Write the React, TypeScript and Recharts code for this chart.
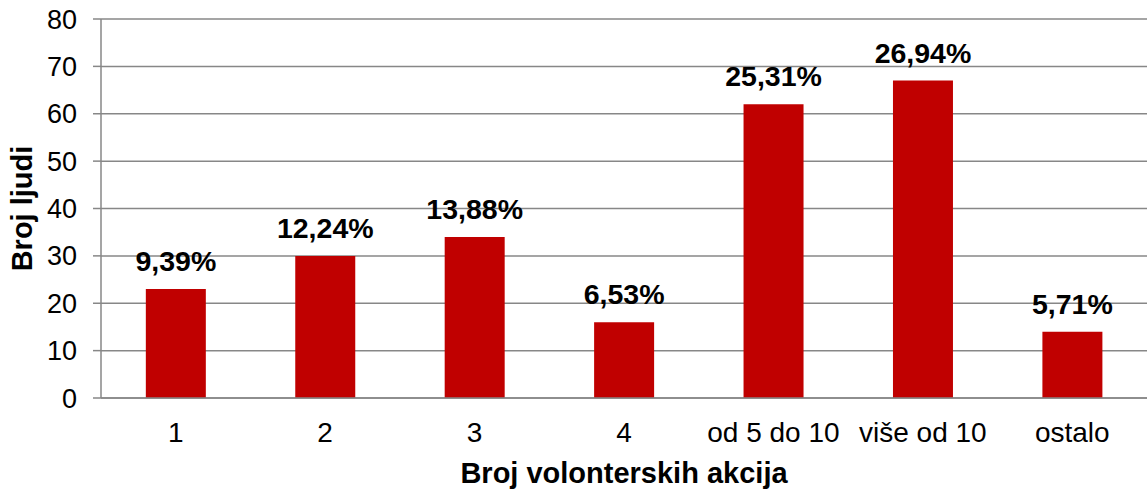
import React from 'react';
import { BarChart, Bar, XAxis, YAxis, CartesianGrid, LabelList } from 'recharts';

const categories = ['1', '2', '3', '4', 'od 5 do 10', 'više od 10', 'ostalo'];
const counts = [23, 30, 34, 16, 62, 67, 14];
const percentLabels = ['9,39%', '12,24%', '13,88%', '6,53%', '25,31%', '26,94%', '5,71%'];
const yTicks = [0, 10, 20, 30, 40, 50, 60, 70, 80];

const data = categories.map((c, i) => ({ name: c, value: counts[i], pct: percentLabels[i] }));

const FONT = '"Liberation Sans", Arial, sans-serif';
const GRID = '#878787';

export default function App() {
  return (
    <div style={{ position: 'absolute', top: 0, left: 0, fontFamily: FONT }}>
      <BarChart
        width={1147}
        height={491}
        data={data}
        margin={{ top: 19, right: 0, left: 0, bottom: 0 }}
        barCategoryGap="30%"
      >
        <CartesianGrid vertical={false} stroke={GRID} strokeWidth={1.5} />
        <XAxis
          dataKey="name"
          height={93}
          tickLine={false}
          tickSize={0}
          tickMargin={24}
          axisLine={{ stroke: GRID, strokeWidth: 1.5 }}
          tick={{ fill: '#000', fontSize: 28, fontFamily: FONT }}
          interval={0}
          label={{
            value: 'Broj volonterskih akcija',
            position: 'insideBottom',
            offset: 8,
            style: { fill: '#000', fontSize: 29, fontWeight: 'bold', fontFamily: FONT },
          }}
        />
        <YAxis
          width={101}
          domain={[0, 80]}
          ticks={yTicks}
          interval={0}
          tickSize={8}
          tickMargin={16}
          tickLine={{ stroke: GRID, strokeWidth: 1.5 }}
          axisLine={{ stroke: GRID, strokeWidth: 1.5 }}
          tick={{ fill: '#000', fontSize: 27, fontFamily: FONT }}
          label={{
            value: 'Broj ljudi',
            angle: -90,
            position: 'insideLeft',
            offset: 22,
            style: { textAnchor: 'middle', fill: '#000', fontSize: 29, fontWeight: 'bold', fontFamily: FONT },
          }}
        />
        <Bar dataKey="value" fill="#C00000" isAnimationActive={false}>
          <LabelList
            dataKey="pct"
            position="top"
            offset={18}
            style={{ fill: '#000', fontSize: 28.5, fontWeight: 'bold', fontFamily: FONT }}
          />
        </Bar>
      </BarChart>
    </div>
  );
}
